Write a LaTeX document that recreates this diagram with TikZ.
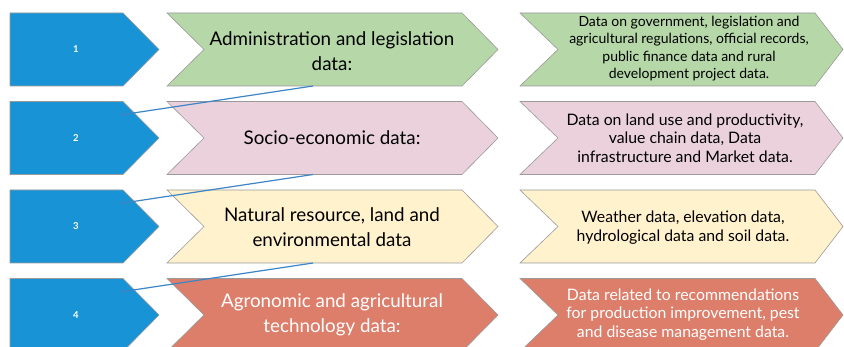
\documentclass[tikz,border=0pt]{standalone}
\usepackage{fontspec}
\setmainfont{Lato}
\usetikzlibrary{arrows.meta}
\definecolor{stepblue}{HTML}{1793D6}
\definecolor{cgreen}{HTML}{B6D7A8}
\definecolor{cpink}{HTML}{EAD1DC}
\definecolor{cyellow}{HTML}{FFF2CC}
\definecolor{csalmon}{HTML}{DD7E6B}
\definecolor{edgegray}{HTML}{9A9A9A}
\definecolor{linkblue}{HTML}{3D85C6}
\tikzset{
  shapeedge/.style={draw=edgegray, line width=0.6pt},
  numtext/.style={text=white, font=\fontsize{9.5}{11}\selectfont\bfseries},
  midtext/.style={align=center, font=\fontsize{18.8}{24.5}\selectfont},
  sidetext/.style={align=center, font=\fontsize{14}{17.3}\selectfont},
  sidetextlg/.style={align=center, font=\fontsize{15.8}{18.5}\selectfont},
  link/.style={draw=linkblue, line width=1.2pt, {Stealth[length=4pt,width=3.5pt]}-},
}
% pentagon: left x, flat end x, tip x, top y, height, fill
\newcommand{\pentashape}[6]{%
  \path[shapeedge, fill=#6] (#1,#4) -- (#2,#4) -- (#3,#4+#5/2) -- (#2,#4+#5) -- (#1,#4+#5) -- cycle;}
% chevron: left x, notch x, corner x, tip x, top y, height, fill
\newcommand{\chevshape}[7]{%
  \path[shapeedge, fill=#7] (#1,#5) -- (#3,#5) -- (#4,#5+#6/2) -- (#3,#5+#6) -- (#1,#5+#6) -- (#2,#5+#6/2) -- cycle;}
\begin{document}
\begin{tikzpicture}[x=1pt,y=-1pt]
\useasboundingbox (0,0) rectangle (844,347);
\clip (0,0) rectangle (844,347);
\fill[white] (0,0) rectangle (844,347);

\def\rh{73}
\foreach \t/\c in {13/cgreen, 101.5/cpink, 190/cyellow, 278.5/csalmon}{
  \pentashape{10}{123}{159}{\t}{\rh}{stepblue}
  \chevshape{167}{204}{462}{498}{\t}{\rh}{\c}
  \chevshape{520}{558}{815}{843}{\t}{\rh}{\c}
}

% step numbers
\node[numtext] (n1) at (76,49.5) {1};
\node[numtext] (n2) at (76,138) {2};
\node[numtext] (n3) at (76,226.5) {3};
\node[numtext] (n4) at (76,315) {4};

% category titles
\node[midtext] (m1) at (332,51) {Administration and legislation\\data:};
\node[midtext] (m2) at (332,138) {Socio-economic data:};
\node[midtext] (m3) at (332,227) {Natural resource, land and\\environmental data};
\node[midtext, text=white] (m4) at (332,315) {Agronomic and agricultural\\technology data:};

% descriptions
\node[sidetext] (d1) at (689,48.5) {Data on government, legislation and\\agricultural regulations, official records,\\public finance data and rural\\development project data.};
\node[sidetextlg] (d2) at (685,138) {Data on land use and productivity,\\value chain data, Data\\infrastructure and Market data.};
\node[sidetextlg] (d3) at (683,227.5) {Weather data, elevation data,\\hydrological data and soil data.};
\node[sidetextlg, text=white] (d4) at (683,314.5) {Data related to recommendations\\for production improvement, pest\\and disease management data.};

% connector end points
\coordinate (a2) at (120,115);
\coordinate (a3) at (120,203.5);
\coordinate (a4) at (120,292);
\coordinate (b1) at (313,86);
\coordinate (b2) at (313,174.5);
\coordinate (b3) at (313,263);

\draw[link] (a2) -- (b1);
\draw[link] (a3) -- (b2);
\draw[link] (a4) -- (b3);
\end{tikzpicture}
\end{document}
